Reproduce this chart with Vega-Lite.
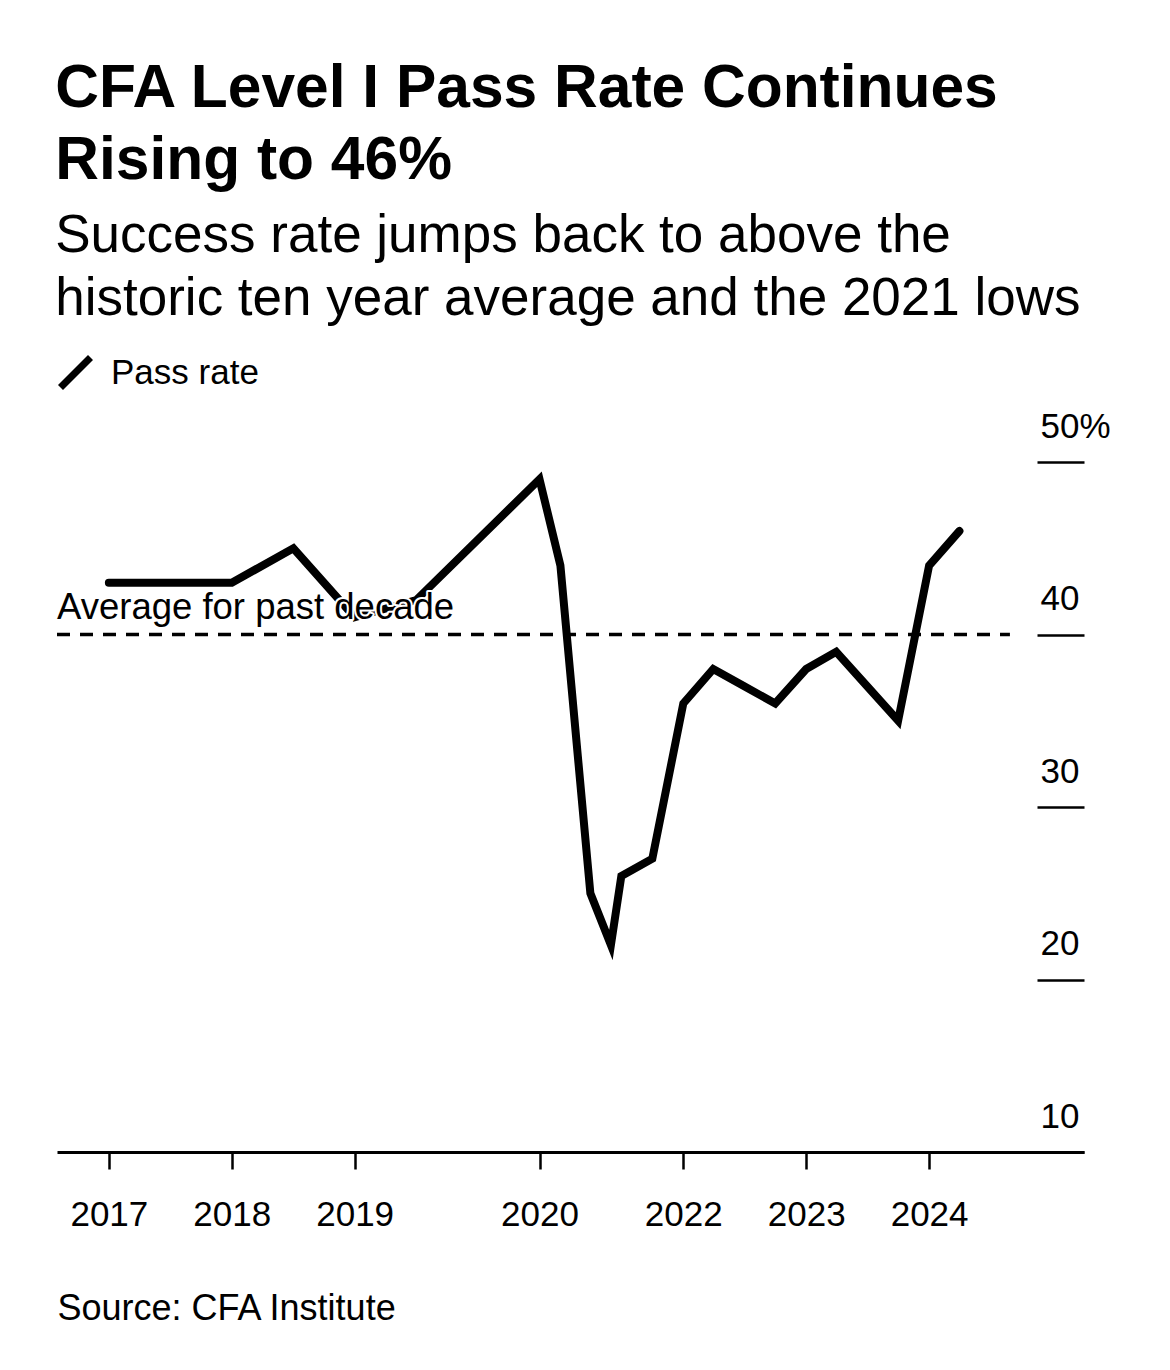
{
  "$schema": "https://vega.github.io/schema/vega-lite/v6.json",
  "width": 1027,
  "height": 690,
  "padding": {"left": 55, "top": 58, "right": 10, "bottom": 10},
  "background": "white",
  "title": {
    "text": ["CFA Level I Pass Rate Continues", "Rising to 46%"],
    "subtitle": ["Success rate jumps back to above the", "historic ten year average and the 2021 lows"],
    "anchor": "start",
    "font": "Liberation Sans",
    "fontSize": 60.5,
    "fontWeight": "bold",
    "lineHeight": 72,
    "color": "black",
    "subtitleFont": "Liberation Sans",
    "subtitleFontSize": 53,
    "subtitleLineHeight": 63,
    "subtitleColor": "black",
    "subtitlePadding": 19,
    "offset": 28
  },
  "config": {
    "view": {"stroke": null},
    "font": "Liberation Sans"
  },
  "datasets": {
    "pass": [
      {"exam": "Jun 2017", "date": "2017-06-15", "rate": 43},
      {"exam": "Dec 2017", "date": "2017-12-15", "rate": 43},
      {"exam": "Jun 2018", "date": "2018-06-15", "rate": 43},
      {"exam": "Dec 2018", "date": "2018-12-15", "rate": 45},
      {"exam": "Jun 2019", "date": "2019-06-15", "rate": 41},
      {"exam": "Dec 2019", "date": "2019-12-15", "rate": 42},
      {"exam": "Dec 2020", "date": "2020-12-15", "rate": 49},
      {"exam": "Feb 2021", "date": "2021-02-15", "rate": 44},
      {"exam": "May 2021", "date": "2021-05-15", "rate": 25},
      {"exam": "Jul 2021", "date": "2021-07-15", "rate": 22},
      {"exam": "Aug 2021", "date": "2021-08-15", "rate": 26},
      {"exam": "Nov 2021", "date": "2021-11-15", "rate": 27},
      {"exam": "Feb 2022", "date": "2022-02-15", "rate": 36},
      {"exam": "May 2022", "date": "2022-05-15", "rate": 38},
      {"exam": "Aug 2022", "date": "2022-08-15", "rate": 37},
      {"exam": "Nov 2022", "date": "2022-11-15", "rate": 36},
      {"exam": "Feb 2023", "date": "2023-02-15", "rate": 38},
      {"exam": "May 2023", "date": "2023-05-15", "rate": 39},
      {"exam": "Aug 2023", "date": "2023-08-15", "rate": 37},
      {"exam": "Nov 2023", "date": "2023-11-15", "rate": 35},
      {"exam": "Feb 2024", "date": "2024-02-15", "rate": 44},
      {"exam": "May 2024", "date": "2024-05-15", "rate": 46}
    ],
    "avg": [
      {"label": "Average for past decade", "avg": 40}
    ]
  },
  "layer": [
    {
      "data": {"name": "avg"},
      "mark": {"type": "rule", "strokeDash": [13, 10], "strokeWidth": 3.5, "color": "black"},
      "encoding": {
        "y": {"field": "avg", "type": "quantitative"},
        "x": {"datum": {"year": 2017, "month": 1, "date": 12, "utc": true}, "type": "temporal"},
        "x2": {"datum": {"year": 2024, "month": 10, "date": 12, "utc": true}}
      }
    },
    {
      "data": {"name": "pass"},
      "mark": {"type": "line", "strokeWidth": 8, "strokeCap": "round", "strokeJoin": "miter"},
      "encoding": {
        "x": {
          "field": "date",
          "type": "temporal",
          "scale": {
            "domain": [
              {"year": 2017, "month": 1, "date": 12, "utc": true},
              {"year": 2025, "month": 5, "date": 20, "utc": true}
            ]
          },
          "axis": {
            "values": [
              {"year": 2017, "month": 6, "date": 15, "utc": true},
              {"year": 2018, "month": 6, "date": 15, "utc": true},
              {"year": 2019, "month": 6, "date": 15, "utc": true},
              {"year": 2020, "month": 12, "date": 15, "utc": true},
              {"year": 2022, "month": 2, "date": 15, "utc": true},
              {"year": 2023, "month": 2, "date": 15, "utc": true},
              {"year": 2024, "month": 2, "date": 15, "utc": true}
            ],
            "format": "%Y",
            "grid": false,
            "domainColor": "black",
            "domainWidth": 3,
            "tickColor": "black",
            "tickWidth": 2.5,
            "tickSize": 17,
            "labelFontSize": 35,
            "labelColor": "black",
            "labelPadding": 28,
            "labelFlush": false,
            "title": "Source: CFA Institute",
            "titleAnchor": "start",
            "titleAlign": "left",
            "titleFontSize": 36,
            "titleFontWeight": "normal",
            "titleColor": "black",
            "titlePadding": 59
          }
        },
        "y": {
          "field": "rate",
          "type": "quantitative",
          "scale": {"domain": [10, 50], "nice": false, "zero": false},
          "axis": {
            "orient": "right",
            "values": [10, 20, 30, 40, 50],
            "domain": false,
            "grid": false,
            "offset": -47,
            "tickSize": 47,
            "tickWidth": 2.5,
            "tickColor": "black",
            "labelAlign": "left",
            "labelBaseline": "alphabetic",
            "labelPadding": -44,
            "labelOffset": -25,
            "labelFontSize": 35,
            "labelColor": "black",
            "labelExpr": "datum.value == 50 ? '50%' : datum.label",
            "title": null
          }
        },
        "color": {
          "datum": "Pass rate",
          "scale": {"range": ["black"]},
          "legend": {
            "orient": "top",
            "direction": "horizontal",
            "title": null,
            "symbolType": "M-1,1L1,-1",
            "symbolSize": 900,
            "symbolStrokeWidth": 7,
            "symbolStrokeColor": "black",
            "symbolFillColor": "transparent",
            "labelFontSize": 35,
            "labelColor": "black",
            "labelOffset": 17,
            "padding": 0,
            "offset": 60
          }
        }
      }
    },
    {
      "data": {"name": "avg"},
      "mark": {"type": "text", "align": "left", "baseline": "alphabetic", "dy": -16, "fontSize": 36.5, "stroke": "white", "strokeWidth": 4, "strokeJoin": "round", "fill": "black"},
      "encoding": {
        "x": {"datum": {"year": 2017, "month": 1, "date": 12, "utc": true}, "type": "temporal"},
        "y": {"field": "avg", "type": "quantitative"},
        "text": {"field": "label"}
      }
    },
    {
      "data": {"name": "avg"},
      "mark": {"type": "text", "align": "left", "baseline": "alphabetic", "dy": -16, "fontSize": 36.5, "fill": "black"},
      "encoding": {
        "x": {"datum": {"year": 2017, "month": 1, "date": 12, "utc": true}, "type": "temporal"},
        "y": {"field": "avg", "type": "quantitative"},
        "text": {"field": "label"}
      }
    }
  ]
}
